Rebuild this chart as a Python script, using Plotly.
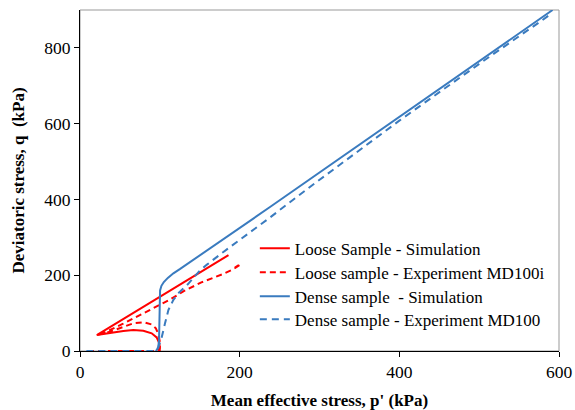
import plotly.graph_objects as go

# Stress paths in p'-q space (kPa)
loose_sim_p = [100, 100, 99.4, 96, 89.8, 79.3, 66.8, 54.3, 37.6, 21, 186]
loose_sim_q = [0, 3, 20, 36, 46.6, 53.6, 55.4, 52.8, 46.6, 42, 253]

loose_exp_p = [10, 40, 70, 98, 100, 100, 98, 95, 89.8, 80, 66.8, 54, 37.6, 21,
               35, 54, 75, 100, 113, 130, 152, 180, 192, 200, 194, 201, 197, 200]
loose_exp_q = [0, 0, 0, 0, 8, 25, 45, 60, 70, 76, 73, 64, 51, 42,
               53, 72, 95, 121, 136, 158, 181, 204, 216, 227, 220, 230, 224, 228]

dense_sim_p = [95, 98, 99, 99.4, 99.6, 100.3, 102, 105, 110, 117, 125, 159, 238, 592]
dense_sim_q = [0, 8, 30, 80, 140, 160, 172, 182, 193, 205, 216, 266, 380, 900]

dense_exp_p = [8, 40, 70, 95, 98, 102, 106.5, 110.7, 117, 123, 135, 150, 159,
               180, 234, 288, 400, 507, 579, 590]
dense_exp_q = [0, 0, 0, 0, 10, 33, 73, 108, 135, 152, 176, 212, 228,
               262, 346, 433, 608, 768, 873, 890]

RED = "#ff0000"
BLUE = "#3a7bbf"
FONT = "Liberation Serif, Times New Roman, serif"

fig = go.Figure()
fig.add_trace(go.Scatter(x=loose_sim_p, y=loose_sim_q, mode="lines",
                         name="Loose Sample - Simulation", legend="legend",
                         line=dict(color=RED, width=2)))
fig.add_trace(go.Scatter(x=loose_exp_p, y=loose_exp_q, mode="lines",
                         name="Loose sample - Experiment MD100i", legend="legend2",
                         line=dict(color=RED, width=2, dash="6px,4px")))
fig.add_trace(go.Scatter(x=dense_sim_p, y=dense_sim_q, mode="lines",
                         name="Dense sample\u00a0 - Simulation", legend="legend3",
                         line=dict(color=BLUE, width=2)))
fig.add_trace(go.Scatter(x=dense_exp_p, y=dense_exp_q, mode="lines",
                         name="Dense sample - Experiment MD100", legend="legend4",
                         line=dict(color=BLUE, width=2, dash="7px,5px")))

# light frame around the plotting area
fig.add_shape(type="rect", xref="paper", yref="paper", x0=0, x1=1, y0=0, y1=1,
              line=dict(color="#999999", width=1), layer="below")


def legend_box(ypos):
    return dict(x=0.365, y=ypos, xanchor="left", yanchor="top",
                bgcolor="rgba(0,0,0,0)", itemwidth=30,
                font=dict(family=FONT, size=17, color="black"))


fig.update_layout(
    width=575, height=410,
    margin=dict(l=80, r=16, t=10, b=59),
    paper_bgcolor="white", plot_bgcolor="white",
    font=dict(family=FONT, size=17, color="black"),
    showlegend=True,
    legend=legend_box(0.3528),
    legend2=legend_box(0.2824),
    legend3=legend_box(0.2120),
    legend4=legend_box(0.1446),
    xaxis=dict(range=[0, 600], tickvals=[0, 200, 400, 600],
               showgrid=False, zeroline=False, automargin=False,
               showline=True, linecolor="black", linewidth=1,
               ticks="outside", ticklen=5, tickcolor="black",
               tickfont=dict(family=FONT, size=17.5),
               title=dict(text="<b>Mean effective stress, p' (kPa)</b>",
                          font=dict(family=FONT, size=17))),
    yaxis=dict(range=[0, 900], tickvals=[0, 200, 400, 600, 800],
               showgrid=False, zeroline=False, automargin=False,
               showline=True, linecolor="black", linewidth=1,
               ticks="outside", ticklen=5, tickcolor="black",
               tickfont=dict(family=FONT, size=17.5),
               title=dict(text="<b>Deviatoric stress, q\u00a0 (kPa)</b>",
                          font=dict(family=FONT, size=17))),
)

fig.write_html("out.html")
